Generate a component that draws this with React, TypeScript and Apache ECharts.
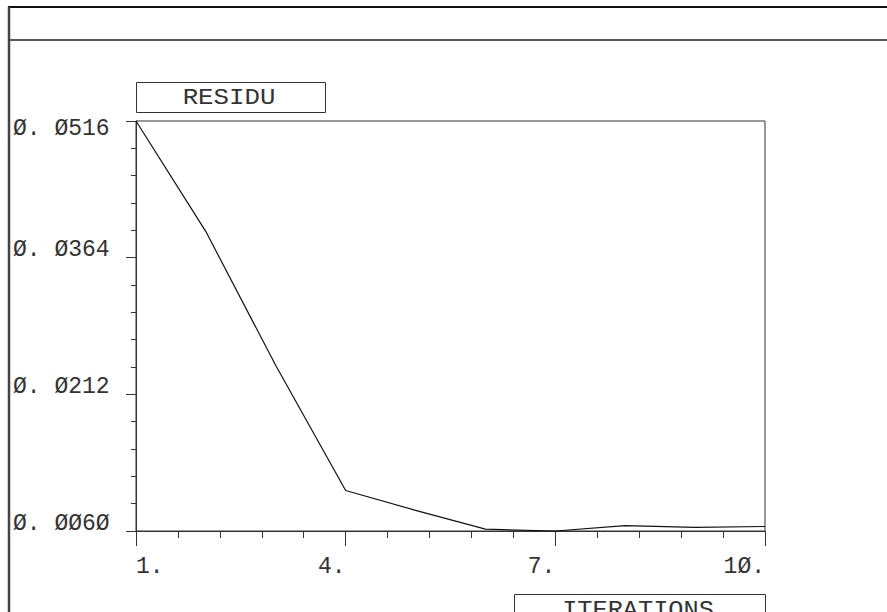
import React, { useEffect, useRef } from "react";
import * as echarts from "echarts";

// ---- data ----
const ITERATIONS = [1, 2, 3, 4, 5, 6, 7, 8, 9, 10];
const RESIDU = [0.0516, 0.0393, 0.0244, 0.0105, 0.0083, 0.0062, 0.0060, 0.0066, 0.0064, 0.0065];
const X_TICKS = [1, 4, 7, 10];
const Y_TICKS = [0.006, 0.0212, 0.0364, 0.0516];
const X_TITLE = "ITERATIONS";
const Y_TITLE = "RESIDU";

const X_MIN = X_TICKS[0];
const X_MAX = X_TICKS[X_TICKS.length - 1];
const X_STEP = X_TICKS[1] - X_TICKS[0];
const Y_MIN = Y_TICKS[0];
const Y_MAX = Y_TICKS[Y_TICKS.length - 1];
const Y_STEP = +(Y_TICKS[1] - Y_TICKS[0]).toFixed(6);

const FONT = "'Liberation Mono', 'DejaVu Sans Mono', monospace";
const slashZero = (s: string) => s.replace(/0/g, "\u00D8");

export default function App() {
  const ref = useRef<HTMLDivElement>(null);
  useEffect(() => {
    if (!ref.current) return;
    const chart = echarts.init(ref.current, null, { renderer: "svg" });
    const axisColor = "#333";
    const textColor = "#333";
    chart.setOption({
      animation: false,
      backgroundColor: "#fff",
      grid: {
        left: 136,
        top: 121,
        width: 629,
        height: 410,
        show: true,
        borderColor: axisColor,
        borderWidth: 1,
        containLabel: false,
      },
      xAxis: {
        type: "value",
        // axis counted from 0 so ticks land on X_TICKS; labels add X_MIN back
        min: 0,
        max: X_MAX - X_MIN,
        interval: X_STEP,
        splitLine: { show: false },
        axisLine: { show: true, onZero: false, lineStyle: { color: axisColor, width: 1 } },
        axisTick: { show: true, inside: false, length: 15, lineStyle: { color: axisColor, width: 1 } },
        minorTick: { show: true, splitNumber: 5, length: 7, lineStyle: { color: axisColor, width: 1 } },
        minorSplitLine: { show: false },
        axisLabel: {
          show: true,
          margin: 28,
          align: "right",
          alignMinLabel: "left",
          verticalAlign: "top",
          lineHeight: 15,
          fontFamily: FONT,
          fontSize: 23,
          color: textColor,
          formatter: (v: number) => slashZero(String(Math.round(v + X_MIN))) + ".",
        },
      },
      yAxis: {
        type: "value",
        min: 0,
        max: +(Y_MAX - Y_MIN).toFixed(6),
        interval: Y_STEP,
        splitLine: { show: false },
        axisLine: { show: true, onZero: false, lineStyle: { color: axisColor, width: 1 } },
        axisTick: { show: true, inside: false, length: 10, lineStyle: { color: axisColor, width: 1 } },
        minorTick: { show: true, splitNumber: 5, length: 5, lineStyle: { color: axisColor, width: 1 } },
        minorSplitLine: { show: false },
        axisLabel: {
          show: true,
          margin: 123,
          align: "left",
          verticalAlign: "bottom",
          verticalAlignMaxLabel: "top",
          lineHeight: 15,
          fontFamily: FONT,
          fontSize: 23,
          color: textColor,
          formatter: (v: number) => {
            const s = (v + Y_MIN).toFixed(4);
            const [a, b] = s.split(".");
            return slashZero(a + ". " + b);
          },
        },
      },
      series: [
        {
          type: "line",
          data: ITERATIONS.map((it, i) => [it - X_MIN, +(RESIDU[i] - Y_MIN).toFixed(6)]),
          symbol: "none",
          lineStyle: { color: "#111", width: 1.2 },
          clip: false,
        },
      ],
      graphic: [
        { type: "line", shape: { x1: 8, y1: 7, x2: 887, y2: 7 }, style: { stroke: "#111", lineWidth: 2 } },
        { type: "line", shape: { x1: 9, y1: 40, x2: 887, y2: 40 }, style: { stroke: "#555", lineWidth: 2 } },
        { type: "line", shape: { x1: 9, y1: 7, x2: 9, y2: 612 }, style: { stroke: "#444", lineWidth: 2.5 } },
        {
          type: "rect",
          shape: { x: 136.5, y: 82.5, width: 189, height: 30 },
          style: { fill: "none", stroke: axisColor, lineWidth: 1 },
        },
        {
          type: "text",
          x: 229,
          y: 98,
          scaleX: 1.12,
          style: {
            text: Y_TITLE,
            fontFamily: FONT,
            fontSize: 23,
            fill: textColor,
            align: "center",
            verticalAlign: "middle",
          },
        },
        {
          type: "rect",
          shape: { x: 514.5, y: 594.5, width: 251, height: 30 },
          style: { fill: "none", stroke: axisColor, lineWidth: 1 },
        },
        {
          type: "text",
          x: 638,
          y: 611,
          scaleX: 1.1,
          style: {
            text: X_TITLE,
            fontFamily: FONT,
            fontSize: 23,
            fill: textColor,
            align: "center",
            verticalAlign: "middle",
          },
        },
      ],
    });
    return () => chart.dispose();
  }, []);
  return (
    <div
      ref={ref}
      style={{ position: "fixed", left: 0, top: 0, width: 887, height: 612, background: "#fff" }}
    />
  );
}
